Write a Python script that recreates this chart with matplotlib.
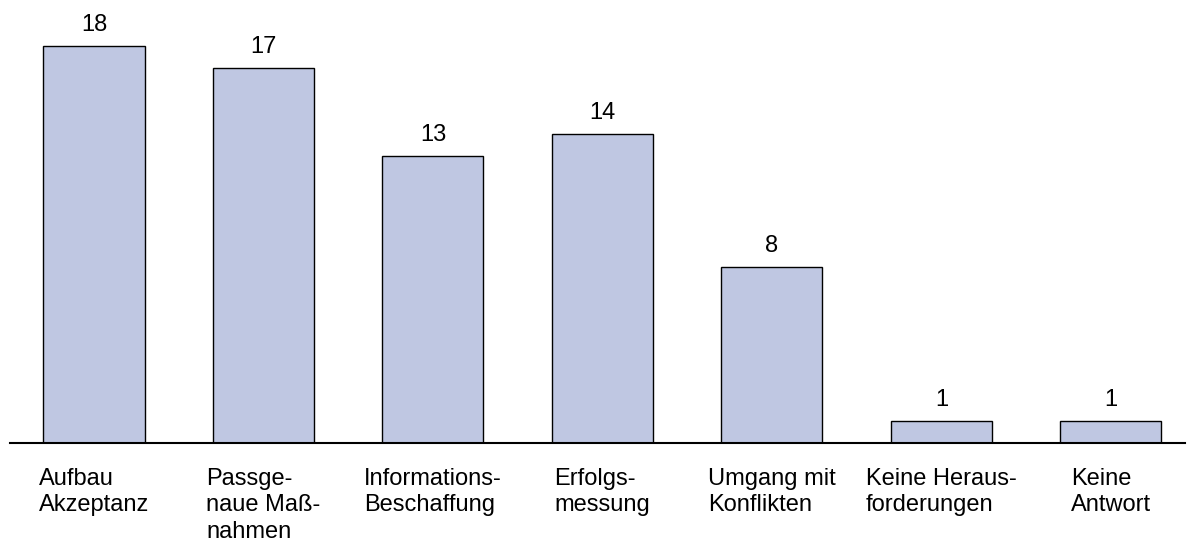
import matplotlib
matplotlib.use("Agg")
import matplotlib.pyplot as plt
from matplotlib.transforms import blended_transform_factory

categories = [
    "Aufbau\nAkzeptanz",
    "Passge-\nnaue Maß-\nnahmen",
    "Informations-\nBeschaffung",
    "Erfolgs-\nmessung",
    "Umgang mit\nKonflikten",
    "Keine Heraus-\nforderungen",
    "Keine\nAntwort",
]
values = [18, 17, 13, 14, 8, 1, 1]

plt.rcParams['font.family'] = ['Liberation Sans', 'DejaVu Sans']

fig = plt.figure(figsize=(11.95, 5.44), dpi=100)
ax = fig.add_axes([10/1195, 101/544, 1175/1195, 443/544])

x = list(range(len(values)))
bars = ax.bar(x, values, width=0.596, color='#BFC7E2', edgecolor='black', linewidth=1.0)

ax.set_xlim(-0.4956, 6.437)
ax.set_ylim(0, 20.08)

for s in ['top', 'right', 'left']:
    ax.spines[s].set_visible(False)
ax.spines['bottom'].set_linewidth(1.5)
ax.set_xticks([])
ax.set_yticks([])

for xi, v in zip(x, values):
    ax.annotate(str(v), xy=(xi, v), xytext=(0, 7), textcoords='offset points',
                ha='center', va='bottom', fontsize=17)

trans = blended_transform_factory(ax.transData, ax.transAxes)
for xi, lab in zip(x, categories):
    ax.annotate(lab, xy=(xi, 0), xycoords=trans, xytext=(0, -18), textcoords='offset points',
                ha='center', va='top', multialignment='left', fontsize=17, linespacing=1.25)

fig.savefig("out.png", dpi=100)
